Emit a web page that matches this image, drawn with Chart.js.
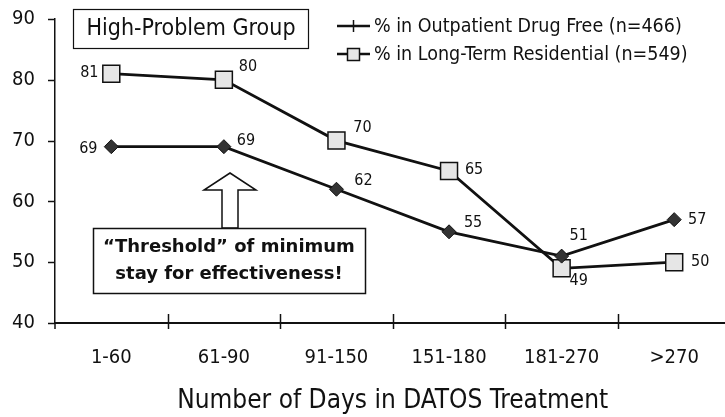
<!DOCTYPE html>
<html>
<head>
<meta charset="utf-8">
<script src="https://cdn.jsdelivr.net/npm/chart.js@4/dist/chart.umd.min.js"></script>
<style>
html,body{margin:0;padding:0;background:#fff;overflow:hidden;}
#wrap{position:relative;width:744px;height:417px;}
</style>
</head>
<body>
<div id="wrap"><canvas id="c"></canvas></div>
<script>
// ---- data ----
const categories = ['1-60', '61-90', '91-150', '151-180', '181-270', '>270'];
const outpatientValues = [69, 69, 62, 55, 51, 57];
const residentialValues = [81, 80, 70, 65, 49, 50];
const seriesNames = ['% in Outpatient Drug Free (n=466)', '% in Long-Term Residential (n=549)'];
const yTicks = [40, 50, 60, 70, 80, 90];
const xTitle = 'Number of Days in DATOS Treatment';
const groupLabel = 'High-Problem Group';
const noteLines = ['\u201cThreshold\u201d of minimum', 'stay for effectiveness!'];

// ---- label placement (offsets from the point, px) ----
const outpatientLabelOffsets = [[-23, 2], [22, -6], [27, -8], [24, -9], [17, -20], [23, 0]];
const residentialLabelOffsets = [[-22, -1], [24, -13], [26, -13], [25, -1], [17, 13], [26, 0]];

const FONT = '"DejaVu Sans", Verdana, sans-serif';
const FONT_C = '"DejaVu Sans Condensed", "DejaVu Sans", sans-serif';
const INK = '#111';

const decor = {
  id: 'decor',
  afterDraw(chart) {
    const ctx = chart.ctx;
    const x = chart.scales.x, y = chart.scales.y;
    const ca = chart.chartArea;
    ctx.save();
    // axis tick marks
    ctx.strokeStyle = INK; ctx.lineWidth = 1.5;
    const w = x.getPixelForValue(1) - x.getPixelForValue(0);
    for (let i = 1; i < categories.length; i++) {
      const px = Math.round(x.getPixelForValue(i) - w / 2) + 0.5;
      ctx.beginPath(); ctx.moveTo(px, ca.bottom - 9); ctx.lineTo(px, ca.bottom + 6); ctx.stroke();
    }
    ctx.beginPath(); ctx.moveTo(ca.left, ca.bottom); ctx.lineTo(ca.left, ca.bottom + 6); ctx.stroke();
    yTicks.forEach(v => {
      const py = Math.round(y.getPixelForValue(v)) + 0.5;
      ctx.beginPath(); ctx.moveTo(ca.left - 7, py); ctx.lineTo(ca.left, py); ctx.stroke();
    });

    // data labels
    ctx.fillStyle = INK; ctx.font = '16px ' + FONT_C;
    ctx.textAlign = 'center'; ctx.textBaseline = 'middle';
    const offs = [outpatientLabelOffsets, residentialLabelOffsets];
    chart.data.datasets.forEach((ds, di) => {
      const meta = chart.getDatasetMeta(di);
      meta.data.forEach((pt, i) => {
        const o = offs[di][i];
        ctx.fillText(String(ds.data[i]), pt.x + o[0], pt.y + o[1]);
      });
    });

    // group box
    ctx.lineWidth = 1.2; ctx.strokeStyle = INK;
    ctx.fillStyle = '#fff';
    ctx.fillRect(73, 9, 235, 39); ctx.strokeRect(73.5, 9.5, 235, 39);
    ctx.fillStyle = INK; ctx.font = '23px ' + FONT_C;
    ctx.fillText(groupLabel, 191, 29);

    // legend
    const lx0 = 337, lx1 = 370, lyy = [26, 54];
    ctx.lineWidth = 2.5; ctx.strokeStyle = INK;
    lyy.forEach((ly) => {
      ctx.beginPath(); ctx.moveTo(lx0, ly); ctx.lineTo(lx1, ly); ctx.stroke();
    });
    ctx.lineWidth = 1.5;
    ctx.beginPath(); ctx.moveTo(353.5, lyy[0] - 6); ctx.lineTo(353.5, lyy[0] + 6); ctx.stroke();
    ctx.fillStyle = '#e6e6e6';
    ctx.fillRect(347, lyy[1] - 6, 13, 13); ctx.strokeRect(347.5, lyy[1] - 5.5, 12, 12);
    ctx.fillStyle = INK; ctx.font = '19.5px ' + FONT_C; ctx.textAlign = 'left';
    ctx.fillText(seriesNames[0], 374, lyy[0] + 1);
    ctx.fillText(seriesNames[1], 374, lyy[1] + 1);

    // arrow
    ctx.beginPath();
    ctx.moveTo(230, 173); ctx.lineTo(256, 190); ctx.lineTo(238, 190); ctx.lineTo(238, 228);
    ctx.lineTo(222, 228); ctx.lineTo(222, 190); ctx.lineTo(204, 190); ctx.closePath();
    ctx.fillStyle = '#fff'; ctx.fill(); ctx.lineWidth = 1.5; ctx.strokeStyle = INK; ctx.stroke();

    // note box
    ctx.fillStyle = '#fff';
    ctx.fillRect(93, 228, 272, 65); ctx.lineWidth = 1.5; ctx.strokeRect(93.5, 228.5, 272, 65);
    ctx.fillStyle = INK; ctx.font = 'bold 18px ' + FONT; ctx.textAlign = 'center';
    ctx.fillText(noteLines[0], 229, 247);
    ctx.fillText(noteLines[1], 229, 274);
    ctx.restore();
  }
};

new Chart(document.getElementById('c'), {
  type: 'line',
  data: {
    labels: categories,
    datasets: [
      {
        label: seriesNames[0], data: outpatientValues,
        borderColor: INK, borderWidth: 2.8, pointStyle: 'rectRot', pointRadius: 7,
        pointBackgroundColor: '#333', pointBorderColor: INK, pointBorderWidth: 1,
        tension: 0
      },
      {
        label: seriesNames[1], data: residentialValues,
        borderColor: INK, borderWidth: 2.8, pointStyle: 'rect', pointRadius: 12,
        pointBackgroundColor: '#e6e6e6', pointBorderColor: INK, pointBorderWidth: 1.5,
        tension: 0
      }
    ]
  },
  options: {
    responsive: true, maintainAspectRatio: false, animation: false,
    layout: { padding: { top: 19, right: 0, left: 0, bottom: 0 } },
    plugins: { legend: { display: false }, tooltip: { enabled: false } },
    scales: {
      x: {
        offset: true,
        grid: { display: false, offset: true },
        border: { display: true, color: INK, width: 2 },
        ticks: { color: INK, font: { family: FONT_C, size: 20 }, padding: 15 },
        title: { display: true, text: xTitle, color: INK, font: { family: FONT_C, size: 26 }, padding: { top: 8, bottom: 0 } },
        afterFit(s) { s.height = 94; s.paddingLeft = 0; s.paddingRight = 0; }
      },
      y: {
        min: 40, max: 90,
        grid: { display: false },
        border: { display: true, color: INK, width: 1.5 },
        ticks: { stepSize: 10, color: INK, font: { family: FONT_C, size: 20 }, padding: 12 },
        afterFit(s) { s.width = 55; s.paddingTop = 0; s.paddingBottom = 0; }
      }
    }
  },
  plugins: [decor]
});
</script>
</body>
</html>
